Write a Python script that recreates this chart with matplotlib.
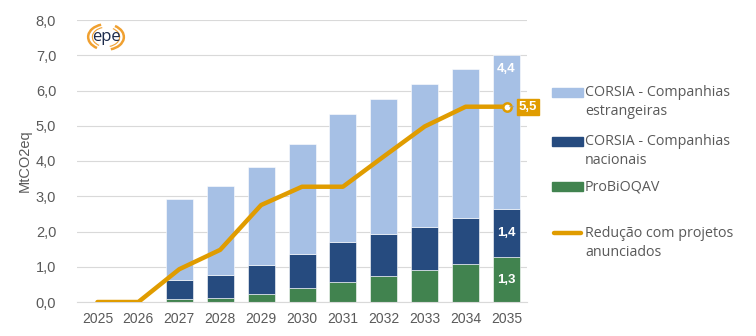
import numpy as np
import matplotlib
matplotlib.use('Agg')
import matplotlib.pyplot as plt
from matplotlib.patches import Rectangle, Arc
from matplotlib.lines import Line2D

plt.rcParams['font.family'] = ['Liberation Sans', 'DejaVu Sans']

anos = ["2025", "2026", "2027", "2028", "2029", "2030", "2031", "2032", "2033", "2034", "2035"]
probioqav = [0.0, 0.0, 0.09, 0.11, 0.23, 0.39, 0.56, 0.74, 0.91, 1.08, 1.27]
corsia_nac = [0.0, 0.0, 0.54, 0.67, 0.81, 0.97, 1.14, 1.18, 1.23, 1.31, 1.37]
corsia_est = [0.0, 0.0, 2.28, 2.51, 2.79, 3.12, 3.63, 3.84, 4.04, 4.21, 4.38]
reducao = [0.0, 0.0, 0.93, 1.48, 2.75, 3.27, 3.27, 4.13, 4.98, 5.54, 5.54]

c_est = "#A6C0E5"
c_nac = "#264B7F"
c_pro = "#41834F"
c_lin = "#E09C00"
txt = "#595959"

def fmt(v):
    return ("%.1f" % v).replace(".", ",")

x = np.arange(len(anos))
g = np.array(probioqav)
n = np.array(corsia_nac)
e = np.array(corsia_est)

W, H = 756, 336
fig = plt.figure(figsize=(W / 100, H / 100), dpi=100)
ax = fig.add_axes([77 / W, 1 - 302 / H, 450 / W, 282 / H])

w = 0.66
ax.bar(x, g, w, color=c_pro, edgecolor="white", linewidth=0.4, zorder=2)
ax.bar(x, n, w, bottom=g, color=c_nac, edgecolor="white", linewidth=0.4, zorder=2)
ax.bar(x, e, w, bottom=g + n, color=c_est, edgecolor="white", linewidth=0.4, zorder=2)
ax.plot(x, reducao, color=c_lin, lw=3.2, solid_capstyle="round", zorder=3)
ax.plot(x[-1], reducao[-1], "o", ms=6, mfc="white", mec=c_lin, mew=1.8, zorder=4)

# rótulos do último ano
i = len(anos) - 1
lab = dict(color="white", fontsize=9.5, fontweight="bold", ha="center", va="center", zorder=5)
ax.text(x[i], g[i] / 2, fmt(g[i]), **lab)
ax.text(x[i], g[i] + n[i] / 2, fmt(n[i]), **lab)
ax.text(x[i], g[i] + n[i] + e[i] - 0.4, fmt(e[i]), **lab)
ax.annotate(fmt(reducao[i]), (x[i], reducao[i]), xytext=(x[i] + 0.53, reducao[i]),
            color="white", fontsize=9.5, fontweight="bold", ha="center", va="center",
            bbox=dict(boxstyle="square,pad=0.15", fc=c_lin, ec=c_lin),
            arrowprops=dict(arrowstyle="-", color="#A0A0A0", lw=0.6), zorder=5,
            annotation_clip=False)

ax.set_xlim(-0.5, len(anos) - 0.5)
ax.set_ylim(0, 8)
ax.set_yticks(np.arange(0, 8.1, 1))
ax.set_yticklabels([fmt(v) for v in np.arange(0, 8.1, 1)])
ax.set_xticks(x)
ax.set_xticklabels(anos)
ax.tick_params(axis="both", length=0, colors=txt, labelsize=10)
ax.tick_params(axis="y", labelsize=10.5, pad=15)
ax.tick_params(axis="x", pad=7)
ax.grid(axis="y", color="#D9D9D9", lw=0.8, zorder=0)
ax.set_axisbelow(True)
for s in ["top", "right", "left"]:
    ax.spines[s].set_visible(False)
ax.spines["bottom"].set_color("#D9D9D9")
ax.set_ylabel("MtCO2eq", color=txt, fontsize=10.5, labelpad=3)

# legenda
itens = [("patch", c_est, "CORSIA - Companhias\nestrangeiras", 92),
         ("patch", c_nac, "CORSIA - Companhias\nnacionais", 141),
         ("patch", c_pro, "ProBiOQAV", 186),
         ("line", c_lin, "Redução com projetos\nanunciados", 233)]
for tipo, cor, texto, yp in itens:
    yf = 1 - yp / H
    if tipo == "patch":
        fig.add_artist(Rectangle((552 / W, yf - 4.5 / H), 31 / W, 9 / H, color=cor,
                                 transform=fig.transFigure))
    else:
        fig.add_artist(Line2D([554 / W, 581 / W], [yf, yf], color=cor, lw=3.2,
                              solid_capstyle="round", transform=fig.transFigure))
    fig.text(585 / W, yf + 7 / H, texto, fontsize=10.3, color=txt, va="top", ha="left",
             family=["Open Sans", "DejaVu Sans"], linespacing=1.35)

# logo
lx, ly = 106 / W, 1 - 37 / H
fig.text(lx, ly, "epe", fontsize=12, color="#1B2A4A", ha="center", va="center",
         family=["Open Sans", "DejaVu Sans"])
for r, lw in [(17, 1.8), (13, 0.8)]:
    fig.add_artist(Arc((lx, ly), 2 * r * 1.05 / W, 2 * r * 0.75 / H, theta1=100, theta2=250,
                       color="#F0A030", lw=lw, transform=fig.transFigure))
    fig.add_artist(Arc((lx, ly), 2 * r * 1.05 / W, 2 * r * 0.75 / H, theta1=280, theta2=70,
                       color="#F0A030", lw=lw, transform=fig.transFigure))

fig.savefig("out.png", dpi=100)
